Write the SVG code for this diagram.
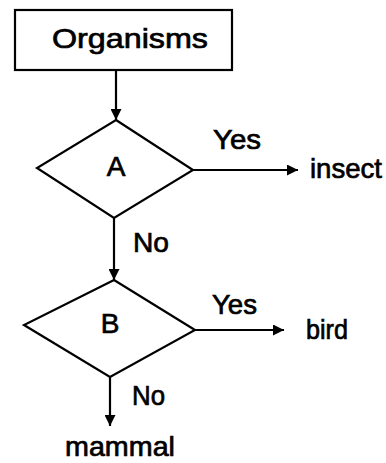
<svg xmlns="http://www.w3.org/2000/svg" width="386" height="463" viewBox="0 0 386 463">
<defs>
<style>
.t{font-family:"Liberation Sans",Arial,sans-serif;font-size:28px;fill:#000;stroke:#000;stroke-width:0.7}
.s{fill:none;stroke:#000;stroke-width:2.2}
.c{fill:none;stroke:#000;stroke-width:2.2}
</style>
<marker id="ah" viewBox="0 0 10 10" refX="10" refY="5" markerWidth="5.5" markerHeight="5" markerUnits="strokeWidth" orient="auto">
<path d="M0,0 L10,5 L0,10 Z" fill="#000"/>
</marker>
</defs>
<rect width="386" height="463" fill="#fff"/>
<g id="organisms">
<rect class="s" x="15" y="10" width="217" height="60"/>
<text class="t" x="52" y="48" textLength="156" lengthAdjust="spacingAndGlyphs">Organisms</text>
</g>
<g id="A">
<polygon class="s" points="116,120 193,170 114,218 37,168"/>
<text class="t" x="116" y="176" text-anchor="middle">A</text>
</g>
<g id="B">
<polygon class="s" points="114,280 195,330 110,377 24,325"/>
<text class="t" x="110" y="333" text-anchor="middle">B</text>
</g>
<g id="insect">
<text class="t" x="310" y="178" textLength="72" lengthAdjust="spacingAndGlyphs">insect</text>
</g>
<g id="bird">
<text class="t" x="306" y="339" textLength="42" lengthAdjust="spacingAndGlyphs">bird</text>
</g>
<g id="mammal">
<text class="t" x="65" y="456" textLength="110" lengthAdjust="spacingAndGlyphs">mammal</text>
</g>
<g id="connectors">
<line class="c" x1="116" y1="70" x2="116" y2="120" marker-end="url(#ah)"/>
<line class="c" x1="193" y1="170" x2="298" y2="170" marker-end="url(#ah)"/>
<line class="c" x1="114" y1="218" x2="114" y2="280" marker-end="url(#ah)"/>
<line class="c" x1="195" y1="330" x2="284" y2="330" marker-end="url(#ah)"/>
<line class="c" x1="110" y1="377" x2="110" y2="426" marker-end="url(#ah)"/>
<text class="t" x="213" y="149" textLength="48" lengthAdjust="spacingAndGlyphs">Yes</text>
<text class="t" x="133" y="252" textLength="36" lengthAdjust="spacingAndGlyphs">No</text>
<text class="t" x="212" y="314" textLength="45" lengthAdjust="spacingAndGlyphs">Yes</text>
<text class="t" x="132" y="405" textLength="33" lengthAdjust="spacingAndGlyphs">No</text>
</g>
</svg>
